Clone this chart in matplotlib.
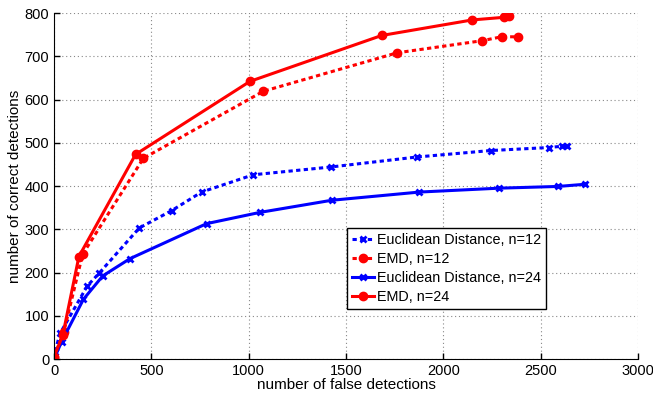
import matplotlib.pyplot as plt
import numpy as np

plt.rcParams['font.family'] = ['Liberation Sans', 'DejaVu Sans']

# Euclidean Distance, n=12
eu12_x = [0, 5, 31, 171, 233, 438, 604, 758, 1024, 1423, 1863, 2243, 2542, 2611, 2633]
eu12_y = [0, 17, 59, 169, 199, 303, 343, 386, 426, 444, 467, 482, 489, 492, 492]
# EMD, n=12
emd12_x = [0, 50, 147, 459, 1075, 1763, 2200, 2299, 2385]
emd12_y = [5, 62, 242, 464, 619, 708, 736, 745, 745]
# Euclidean Distance, n=24
eu24_x = [0, 39, 151, 250, 390, 784, 1058, 1426, 1877, 2286, 2590, 2727]
eu24_y = [0, 40, 138, 192, 232, 313, 339, 367, 386, 395, 399, 404]
# EMD, n=24
emd24_x = [0, 45, 128, 419, 1007, 1683, 2149, 2311, 2337]
emd24_y = [5, 55, 237, 473, 642, 748, 784, 790, 792]

fig = plt.figure(figsize=(6.53, 3.94), dpi=100)
ax = fig.add_axes([0.0827, 0.0888, 0.8943, 0.8782])

dot = (0, (1.4, 1.1))
lw = 2.2
ax.plot(eu12_x, eu12_y, color='blue', linestyle=dot, linewidth=lw, marker='x',
        markersize=5, markeredgewidth=2, dash_capstyle='butt', label='Euclidean Distance, n=12')
ax.plot(emd12_x, emd12_y, color='red', linestyle=dot, linewidth=lw, marker='o',
        markersize=6, dash_capstyle='butt', label='EMD, n=12')
ax.plot(eu24_x, eu24_y, color='blue', linestyle='-', linewidth=lw, marker='x',
        markersize=5, markeredgewidth=2, label='Euclidean Distance, n=24')
ax.plot(emd24_x, emd24_y, color='red', linestyle='-', linewidth=lw, marker='o',
        markersize=6, label='EMD, n=24')

ax.set_xlim(0, 3000)
ax.set_ylim(0, 800)
ax.set_xticks(np.arange(0, 3001, 500))
ax.set_yticks(np.arange(0, 801, 100))
ax.tick_params(direction='in', labelsize=10.5, length=4, width=1)
ax.spines['top'].set_visible(False)
ax.spines['right'].set_visible(False)
ax.grid(True, linestyle=(0, (1, 2.5)), color='#888888', linewidth=0.8)

ax.set_xlabel('number of false detections', fontsize=11, labelpad=0)
ax.set_ylabel('number of correct detections', fontsize=11, labelpad=2)

leg = ax.legend(loc='lower left', bbox_to_anchor=(0.502, 0.1445), borderaxespad=0,
                fontsize=10.4, fancybox=False, framealpha=1, edgecolor='black',
                handlelength=1.5, handletextpad=0.2, labelspacing=0.35, borderpad=0.35)
leg.get_frame().set_linewidth(1)

fig.savefig('out.png', dpi=100)
